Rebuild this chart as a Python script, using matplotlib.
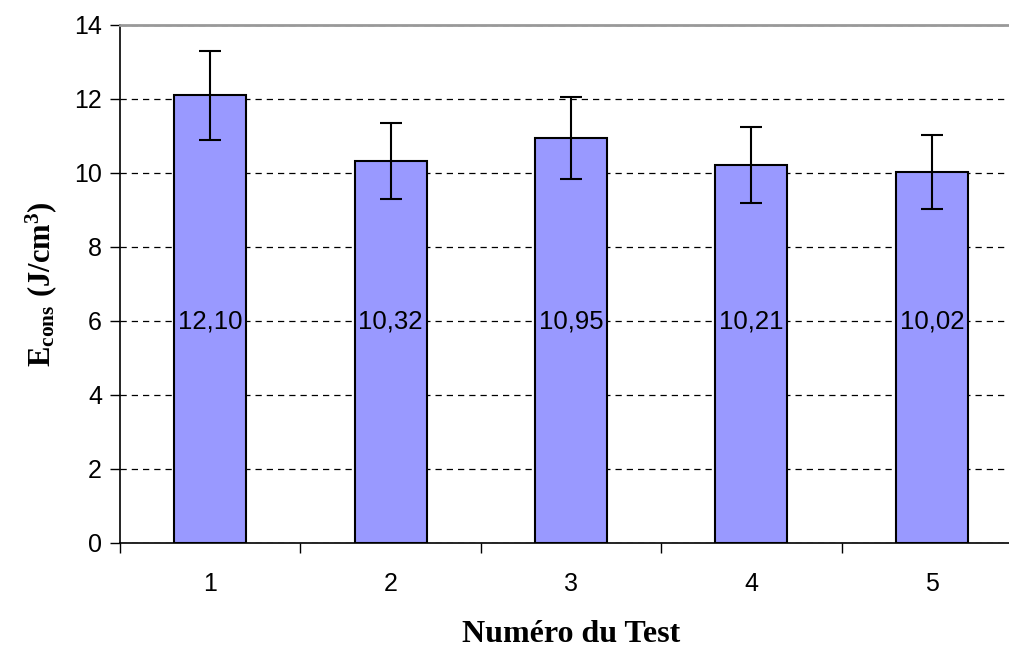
import matplotlib.pyplot as plt
import numpy as np

# Données
tests = ['1', '2', '3', '4', '5']
e_cons = [12.10, 10.32, 10.95, 10.21, 10.02]
erreurs = [1.21, 1.03, 1.10, 1.02, 1.00]

plt.rcParams['font.family'] = ['Liberation Sans', 'DejaVu Sans']
plt.rcParams['mathtext.fontset'] = 'custom'
plt.rcParams['mathtext.rm'] = 'Liberation Serif:bold'
plt.rcParams['mathtext.it'] = 'Liberation Serif:bold'
plt.rcParams['mathtext.bf'] = 'Liberation Serif:bold'

fig = plt.figure(figsize=(10.09, 6.48), dpi=100)
# la zone de tracé dépasse un peu à droite (image rognée)
ax = fig.add_axes([120 / 1009, 105 / 648, 902 / 1009, 518 / 648])

x = np.arange(len(tests))
ax.bar(x, e_cons, width=0.40, color='#9999FF', edgecolor='black', linewidth=1.5, zorder=3,
       yerr=erreurs, error_kw=dict(ecolor='black', elinewidth=1.5, capsize=8, capthick=1.5))

for xi, v in zip(x, e_cons):
    ax.text(xi, 6, f'{v:.2f}'.replace('.', ','), ha='center', va='center', fontsize=18.5, zorder=4)

ax.set_xlim(-0.5, len(tests) - 0.5)
ax.set_ylim(0, 14)
ax.set_yticks(range(0, 15, 2))
ax.yaxis.grid(True, color='black', linestyle=(0, (5, 4)), linewidth=0.9, zorder=0)

# ticks entre les catégories, étiquettes au centre
ax.set_xticks(np.arange(-0.5, len(tests), 1.0))
ax.set_xticklabels([])
ax.set_xticks(x, minor=True)
ax.set_xticklabels(tests, minor=True)
ax.tick_params(axis='x', which='major', direction='out', length=7, width=1)
ax.tick_params(axis='x', which='minor', length=0, pad=21, labelsize=18)
ax.tick_params(axis='y', direction='out', length=7, width=1, labelsize=18, pad=6)

ax.spines['right'].set_visible(False)
ax.spines['top'].set_color('#999999')
ax.spines['top'].set_linewidth(2)
ax.spines['left'].set_linewidth(1.2)
ax.spines['bottom'].set_linewidth(1.2)

ax.set_xlabel('Numéro du Test', family='Liberation Serif', fontweight='bold', fontsize=23, labelpad=17)
ax.xaxis.label.set_x((571 - 120) / 902)
ax.set_ylabel(r'$\mathrm{E_{cons}\ (J/cm^{3})}$', fontsize=22, labelpad=11)

fig.savefig('out.png', dpi=100)
